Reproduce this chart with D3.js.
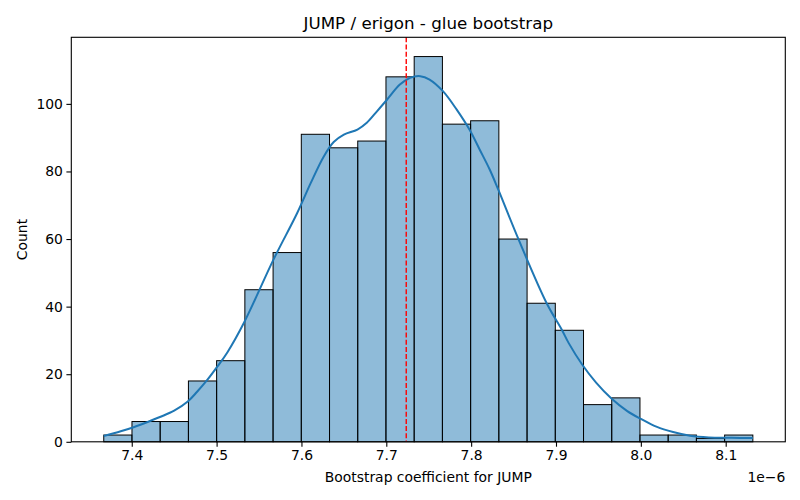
<!DOCTYPE html>
<html>
<head>
<meta charset="utf-8">
<script src="https://cdn.jsdelivr.net/npm/d3@7"></script>
<style>
  body { margin: 0; background: #fff; }
  text { font-family: "DejaVu Sans", sans-serif; fill: #000; }
</style>
</head>
<body>
<svg id="chart" width="800" height="500"></svg>
<script>
// ---- data (x values in units of 1e-6) ----
const binStart = 7.367;
const binEnd = 8.132;
const counts = [2, 6, 6, 18, 24, 45, 56, 91, 87, 89, 108, 114, 94, 95, 60, 41, 33, 11, 13, 2, 2, 1, 2];
const kdeX = [7.367, 7.387, 7.403, 7.418, 7.434, 7.450, 7.466, 7.477, 7.489, 7.501, 7.513, 7.533, 7.567, 7.595, 7.611, 7.626, 7.638, 7.650, 7.666, 7.677, 7.689, 7.701, 7.716, 7.728, 7.740, 7.751, 7.767, 7.783, 7.798, 7.810, 7.822, 7.832, 7.856, 7.889, 7.907, 7.915, 7.931, 7.947, 7.965, 7.984, 8.000, 8.019, 8.038, 8.058, 8.080, 8.107, 8.132];
const kdeY = [1.7, 3.1, 4.4, 5.8, 7.4, 9.2, 11.9, 14.8, 18.3, 22.3, 26.6, 35.6, 53.9, 67.7, 76.6, 84.3, 88.7, 90.9, 92.4, 94.4, 97.8, 101.3, 105.7, 107.7, 108.2, 107.2, 103.7, 98.3, 92.4, 86.5, 80.5, 74.6, 59.8, 41.0, 33.1, 29.2, 22.8, 17.6, 12.9, 9.1, 6.8, 4.4, 2.9, 1.8, 1.3, 1.2, 1.1];
const meanValue = 7.7235;
const xTicks = [7.4, 7.5, 7.6, 7.7, 7.8, 7.9, 8.0, 8.1];
const yTicks = [0, 20, 40, 60, 80, 100];
const titleText = "JUMP / erigon - glue bootstrap";
const xLabelText = "Bootstrap coefficient for JUMP";
const yLabelText = "Count";
const offsetText = "1e\u22126";

// ---- layout ----
const pLeft = 71.3, pRight = 785.3, pTop = 37.3, pBottom = 441.8;
const svg = d3.select("#chart");

const span = binEnd - binStart;
const x = d3.scaleLinear()
  .domain([binStart - 0.05 * span, binEnd + 0.05 * span])
  .range([pLeft, pRight]);
const yMax = d3.max(counts) * 1.05;
const y = d3.scaleLinear().domain([0, yMax]).range([pBottom, pTop]);

const binW = span / counts.length;
const bins = counts.map((c, i) => ({ x0: binStart + i * binW, x1: binStart + (i + 1) * binW, c }));

// bars
svg.append("g").selectAll("rect").data(bins).join("rect")
  .attr("x", d => x(d.x0))
  .attr("width", d => x(d.x1) - x(d.x0))
  .attr("y", d => y(d.c))
  .attr("height", d => y(0) - y(d.c))
  .attr("fill", "#1f77b4")
  .attr("fill-opacity", 0.5)
  .attr("stroke", "#000")
  .attr("stroke-width", 1);

// kde line
const line = d3.line()
  .x((d, i) => x(kdeX[i]))
  .y(d => y(d))
  .curve(d3.curveCatmullRom.alpha(0.5));
svg.append("path")
  .datum(kdeY)
  .attr("d", line)
  .attr("fill", "none")
  .attr("stroke", "#1f77b4")
  .attr("stroke-width", 2);

// mean line
svg.append("line")
  .attr("x1", x(meanValue)).attr("x2", x(meanValue))
  .attr("y1", pTop).attr("y2", pBottom)
  .attr("stroke", "red")
  .attr("stroke-width", 1.4)
  .attr("stroke-dasharray", "5,2.2");

// axes
const xAxis = d3.axisBottom(x).tickValues(xTicks).tickFormat(d3.format(".1f")).tickSize(4.9).tickPadding(3.5);
const gx = svg.append("g").attr("transform", `translate(0,${pBottom})`).call(xAxis);
const yAxis = d3.axisLeft(y).tickValues(yTicks).tickFormat(d3.format("d")).tickSize(4.9).tickPadding(3.5);
const gy = svg.append("g").attr("transform", `translate(${pLeft},0)`).call(yAxis);
[gx, gy].forEach(g => {
  g.select(".domain").remove();
  g.selectAll("line").attr("stroke", "#000").attr("stroke-width", 1.1);
  g.selectAll("text").attr("font-size", 13.9).attr("font-family", "DejaVu Sans").attr("fill", "#000");
});

// frame
svg.append("rect")
  .attr("x", pLeft).attr("y", pTop)
  .attr("width", pRight - pLeft).attr("height", pBottom - pTop)
  .attr("fill", "none").attr("stroke", "#000").attr("stroke-width", 1.1);

// texts
svg.append("text")
  .attr("x", (pLeft + pRight) / 2).attr("y", 29)
  .attr("text-anchor", "middle").attr("font-size", 16.7)
  .text(titleText);
svg.append("text")
  .attr("x", (pLeft + pRight) / 2).attr("y", 482)
  .attr("text-anchor", "middle").attr("font-size", 13.9)
  .text(xLabelText);
svg.append("text")
  .attr("x", pRight).attr("y", 482)
  .attr("text-anchor", "end").attr("font-size", 13.9)
  .text(offsetText);
svg.append("text")
  .attr("transform", `translate(27,${(pTop + pBottom) / 2}) rotate(-90)`)
  .attr("text-anchor", "middle").attr("font-size", 13.9)
  .text(yLabelText);
</script>
</body>
</html>
